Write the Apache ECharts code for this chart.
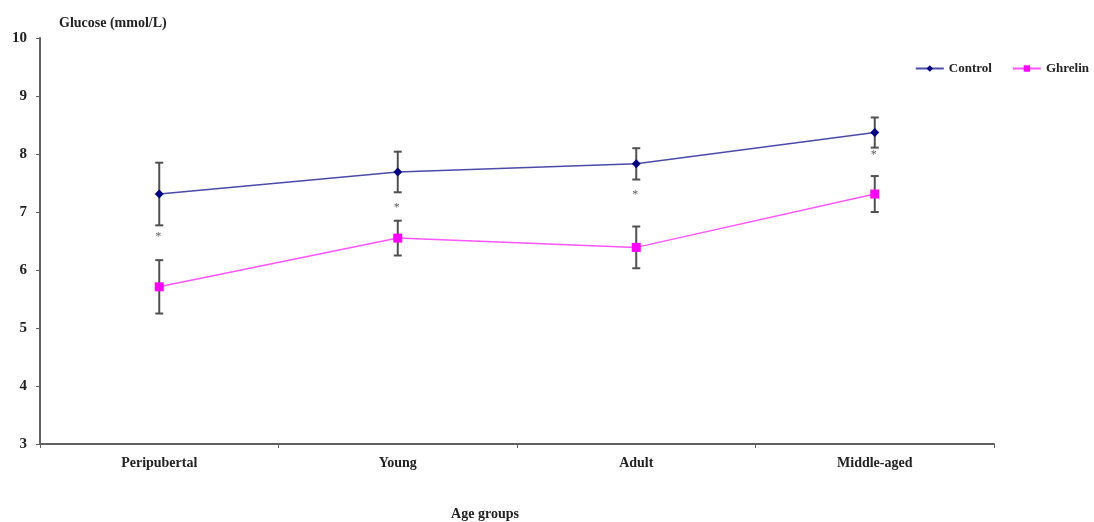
<!DOCTYPE html>
<html>
<head>
<meta charset="utf-8">
<script src="https://cdn.jsdelivr.net/npm/echarts@6/dist/echarts.min.js"></script>
<style>html,body{margin:0;padding:0;background:#fff;}#c{width:1094px;height:522px;}</style>
</head>
<body>
<div id="c"></div>
<script>
const categories = ['Peripubertal', 'Young', 'Adult', 'Middle-aged'];
const controlMean = [7.31, 7.69, 7.83, 8.37];
const controlErr = [0.54, 0.35, 0.27, 0.26];
const ghrelinMean = [5.71, 6.55, 6.39, 7.31];
const ghrelinErr = [0.46, 0.30, 0.36, 0.31];
const starValues = [6.62, 7.12, 7.35, 8.03];

const FONT = '"Liberation Serif", "DejaVu Serif", serif';

function errData(mean, err) {
  return mean.map((m, i) => [i, m - err[i], m + err[i]]);
}
function errRender(params, api) {
  const x = api.value(0);
  const lo = api.coord([x, api.value(1)]);
  const hi = api.coord([x, api.value(2)]);
  const w = 4;
  const style = { stroke: '#505050', lineWidth: 2 };
  return {
    type: 'group',
    children: [
      { type: 'line', shape: { x1: lo[0], y1: lo[1], x2: hi[0], y2: hi[1] }, style: style },
      { type: 'line', shape: { x1: lo[0] - w, y1: lo[1], x2: lo[0] + w, y2: lo[1] }, style: style },
      { type: 'line', shape: { x1: hi[0] - w, y1: hi[1], x2: hi[0] + w, y2: hi[1] }, style: style }
    ]
  };
}

const chart = echarts.init(document.getElementById('c'), null, { renderer: 'canvas' });
chart.setOption({
  animation: false,
  backgroundColor: '#fff',
  grid: { left: 40, right: 100, top: 38, bottom: 78, containLabel: false, outerBoundsMode: 'none' },
  title: {
    text: 'Glucose (mmol/L)',
    left: 54, top: 11,
    textStyle: { fontFamily: FONT, fontWeight: 'bold', fontSize: 14, color: '#222' }
  },
  legend: {
    right: 0, top: 57,
    itemGap: 20, itemWidth: 28, itemHeight: 8,
    textStyle: { fontFamily: FONT, fontWeight: 'bold', fontSize: 13, color: '#222' },
    data: ['Control', 'Ghrelin']
  },
  xAxis: {
    type: 'category',
    data: categories,
    boundaryGap: true,
    name: 'Age groups',
    nameLocation: 'middle',
    nameGap: 63,
    nameTextStyle: { fontFamily: FONT, fontWeight: 'bold', fontSize: 14, color: '#222', padding: [0, 0, 0, -64] },
    axisLine: { lineStyle: { color: '#606060', width: 2 } },
    axisTick: { show: true, length: 4, lineStyle: { color: '#606060', width: 1 } },
    axisLabel: { fontFamily: FONT, fontWeight: 'bold', fontSize: 14, color: '#222', margin: 12 }
  },
  yAxis: {
    type: 'value',
    min: 3, max: 10, interval: 1,
    splitLine: { show: false },
    axisLine: { show: true, lineStyle: { color: '#606060', width: 2 } },
    axisTick: { show: true, length: 4, lineStyle: { color: '#606060', width: 1 } },
    axisLabel: { fontFamily: FONT, fontWeight: 'bold', fontSize: 15, color: '#222', margin: 13 }
  },
  series: [
    {
      name: 'Control', type: 'line', data: controlMean,
      symbol: 'diamond', symbolSize: 9,
      itemStyle: { color: '#000080' },
      lineStyle: { color: '#4a4aa8', width: 1.5 },
      z: 3
    },
    {
      name: 'Ghrelin', type: 'line', data: ghrelinMean,
      symbol: 'rect', symbolSize: 9,
      itemStyle: { color: '#ff00ff' },
      lineStyle: { color: '#ff55ff', width: 1.5 },
      z: 3
    },
    {
      type: 'custom', name: 'ctrlErr', renderItem: errRender,
      data: errData(controlMean, controlErr), z: 2, silent: true
    },
    {
      type: 'custom', name: 'ghrErr', renderItem: errRender,
      data: errData(ghrelinMean, ghrelinErr), z: 2, silent: true
    },
    {
      type: 'scatter', name: 'stars', data: starValues,
      symbolSize: 0,
      label: {
        show: true, position: 'inside', formatter: '*',
        fontFamily: FONT, fontSize: 12, color: '#333', offset: [-1, 3]
      },
      silent: true
    }
  ]
});
</script>
</body>
</html>
